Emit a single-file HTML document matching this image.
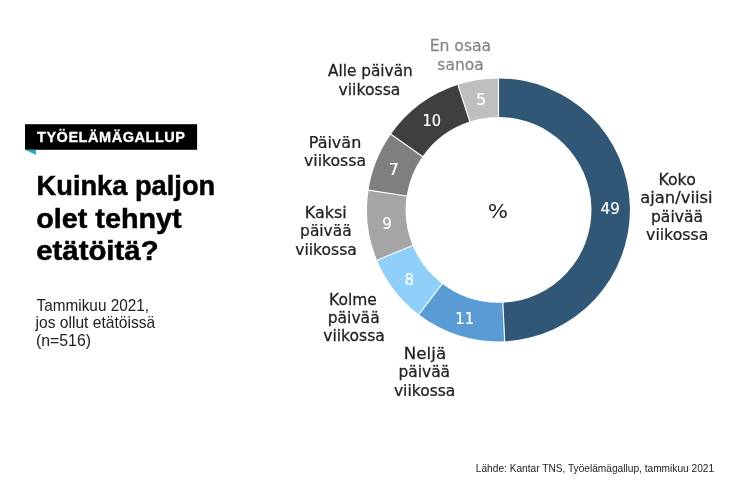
<!DOCTYPE html>
<html lang="fi"><head><meta charset="utf-8"><title>Työelämägallup</title>
<style>
html,body{margin:0;padding:0;background:#fff;}
body{width:750px;height:500px;overflow:hidden;position:relative;}
svg{position:absolute;left:0;top:0;display:block;}
.l,.g{font-family:"DejaVu Sans","Liberation Sans",sans-serif;font-size:15.0px;fill:#222;stroke:#222;stroke-width:0.25px;}
.g{fill:#878787;stroke:#878787;}
.n{font-family:"DejaVu Sans","Liberation Sans",sans-serif;font-size:15.3px;fill:#fff;stroke:#fff;stroke-width:0.2px;}
.p{font-family:"DejaVu Sans","Liberation Sans",sans-serif;font-size:20.0px;fill:#222;}
.tag{font-family:"Liberation Sans",sans-serif;font-weight:bold;font-size:14.5px;fill:#fff;stroke:#fff;stroke-width:0.3px;}
.h{font-family:"Liberation Sans",sans-serif;font-weight:bold;font-size:27.2px;fill:#000;stroke:#000;stroke-width:0.5px;}
.s{font-family:"Liberation Sans",sans-serif;font-size:16.2px;fill:#222;}
.f{font-family:"Liberation Sans",sans-serif;font-size:11px;fill:#222;}
</style></head><body>
<svg width="750" height="500" viewBox="0 0 750 500">
<rect x="0" y="0" width="750" height="500" fill="#fff"/>
<rect x="25" y="124.2" width="172.1" height="25.6" fill="#000"/>
<polygon points="25,149.8 35.8,149.8 35.8,154.8" fill="#1ea5c9"/>
<text x="37" y="142.4" class="tag" textLength="148" lengthAdjust="spacing">TYÖELÄMÄGALLUP</text>
<text x="36.6" y="195" class="h" textLength="178.6" lengthAdjust="spacingAndGlyphs">Kuinka paljon</text>
<text x="36.2" y="227.7" class="h" textLength="145.4" lengthAdjust="spacingAndGlyphs">olet tehnyt</text>
<text x="36.2" y="260" class="h" textLength="122.4" lengthAdjust="spacingAndGlyphs">etätöitä?</text>
<text x="36.6" y="310.6" class="s" textLength="112.4" lengthAdjust="spacingAndGlyphs">Tammikuu 2021,</text>
<text x="35.6" y="328.3" class="s" textLength="119.6" lengthAdjust="spacingAndGlyphs">jos ollut etätöissä</text>
<text x="36" y="345.9" class="s" textLength="55" lengthAdjust="spacingAndGlyphs">(n=516)</text>
<text x="475.8" y="472.4" class="f" textLength="238.3" lengthAdjust="spacingAndGlyphs">Lähde: Kantar TNS, Työelämägallup, tammikuu 2021</text>
<path d="M498.50,78.40 A131.5,131.5 0 0 1 504.69,341.25 L502.88,302.70 A92.9,92.9 0 0 0 498.50,117.00 Z" fill="#305776"/>
<path d="M504.69,341.25 A131.5,131.5 0 0 1 418.81,314.50 L442.20,283.80 A92.9,92.9 0 0 0 502.88,302.70 Z" fill="#5b9bd5"/>
<path d="M418.81,314.50 A131.5,131.5 0 0 1 377.01,260.22 L412.67,245.45 A92.9,92.9 0 0 0 442.20,283.80 Z" fill="#8fd0fb"/>
<path d="M377.01,260.22 A131.5,131.5 0 0 1 368.48,190.24 L406.64,196.01 A92.9,92.9 0 0 0 412.67,245.45 Z" fill="#a5a5a5"/>
<path d="M368.48,190.24 A131.5,131.5 0 0 1 390.91,134.29 L422.49,156.48 A92.9,92.9 0 0 0 406.64,196.01 Z" fill="#7f7f7f"/>
<path d="M390.91,134.29 A131.5,131.5 0 0 1 457.86,84.84 L469.79,121.55 A92.9,92.9 0 0 0 422.49,156.48 Z" fill="#3f3f3f"/>
<path d="M457.86,84.84 A131.5,131.5 0 0 1 498.50,78.40 L498.50,117.00 A92.9,92.9 0 0 0 469.79,121.55 Z" fill="#bfbfbf"/>
<line x1="498.50" y1="77.90" x2="498.50" y2="117.50" stroke="#fff" stroke-width="1.1"/>
<line x1="504.72" y1="341.75" x2="502.85" y2="302.20" stroke="#fff" stroke-width="1.1"/>
<line x1="418.51" y1="314.90" x2="442.51" y2="283.40" stroke="#fff" stroke-width="1.1"/>
<line x1="376.55" y1="260.41" x2="413.13" y2="245.26" stroke="#fff" stroke-width="1.1"/>
<line x1="367.98" y1="190.16" x2="407.14" y2="196.08" stroke="#fff" stroke-width="1.1"/>
<line x1="390.50" y1="134.00" x2="422.90" y2="156.77" stroke="#fff" stroke-width="1.1"/>
<line x1="457.71" y1="84.36" x2="469.95" y2="122.02" stroke="#fff" stroke-width="1.1"/>
<text transform="translate(600.56,214.00) scale(0.9915,1)" class="n">49</text>
<text transform="translate(455.32,323.95) scale(0.9600,1)" class="n">11</text>
<text transform="translate(404.52,285.20) scale(0.9806,1)" class="n">8</text>
<text transform="translate(382.16,229.38) scale(0.9935,1)" class="n">9</text>
<text transform="translate(388.79,174.55) scale(1.0483,1)" class="n">7</text>
<text transform="translate(422.43,125.85) scale(0.9552,1)" class="n">10</text>
<text transform="translate(475.89,104.78) scale(1.0483,1)" class="n">5</text>
<text transform="translate(487.74,218.06) scale(1.0647,0.9600)" class="p">%</text>
<text transform="translate(429.64,50.90) scale(1.0418,1)" class="g">En osaa</text>
<text transform="translate(437.32,69.50) scale(1.0339,1)" class="g">sanoa</text>
<text transform="translate(327.94,76.30) scale(1.0221,1)" class="l">Alle päivän</text>
<text transform="translate(338.48,94.90) scale(1.0435,1)" class="l">viikossa</text>
<text transform="translate(308.70,147.60) scale(1.0667,1)" class="l">Päivän</text>
<text transform="translate(303.98,166.30) scale(1.0470,1)" class="l">viikossa</text>
<text transform="translate(304.70,217.50) scale(1.0658,1)" class="l">Kaksi</text>
<text transform="translate(300.12,236.10) scale(1.0274,1)" class="l">päivää</text>
<text transform="translate(295.28,254.50) scale(1.0365,1)" class="l">viikossa</text>
<text transform="translate(329.05,304.50) scale(1.0341,1)" class="l">Kolme</text>
<text transform="translate(327.70,323.10) scale(1.0379,1)" class="l">päivää</text>
<text transform="translate(323.18,341.40) scale(1.0400,1)" class="l">viikossa</text>
<text transform="translate(403.83,358.60) scale(1.1149,1)" class="l">Neljä</text>
<text transform="translate(398.41,377.20) scale(1.0316,1)" class="l">päivää</text>
<text transform="translate(393.88,395.90) scale(1.0365,1)" class="l">viikossa</text>
<text transform="translate(658.43,184.60) scale(1.0496,1)" class="l">Koko</text>
<text transform="translate(640.21,203.20) scale(1.0922,1)" class="l">ajan/viisi</text>
<text transform="translate(651.01,221.60) scale(1.0358,1)" class="l">päivää</text>
<text transform="translate(646.08,239.90) scale(1.0487,1)" class="l">viikossa</text>
</svg>
</body></html>
